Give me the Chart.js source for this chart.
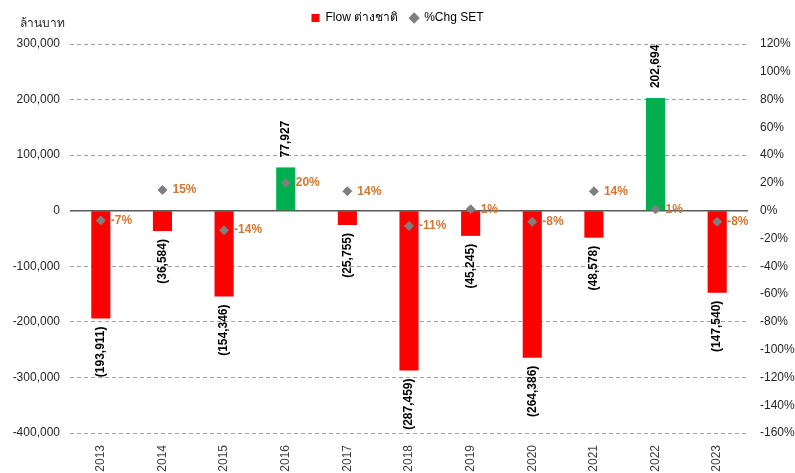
<!DOCTYPE html>
<html>
<head>
<meta charset="utf-8">
<script src="https://cdn.jsdelivr.net/npm/chart.js@4.4.0/dist/chart.umd.min.js"></script>
<style>
  html, body { margin: 0; padding: 0; background: #ffffff; }
  #wrap { width: 795px; height: 473px; position: relative; }
</style>
</head>
<body>
<div id="wrap"><canvas id="flowChart"></canvas></div>
<script>
// Foreign fund flow (million baht) vs SET % change, 2013-2023
const years = ['2013', '2014', '2015', '2016', '2017', '2018', '2019', '2020', '2021', '2022', '2023'];
const flowValues = [-193911, -36584, -154346, 77927, -25755, -287459, -45245, -264386, -48578, 202694, -147540];
const setChange = [-7, 15, -14, 20, 14, -11, 1, -8, 14, 1, -8];

const leftTicks = [-400000, -300000, -200000, -100000, 0, 100000, 200000, 300000];
const rightTicks = [-160, -140, -120, -100, -80, -60, -40, -20, 0, 20, 40, 60, 80, 100, 120];

const FONT = "'Liberation Sans', 'Noto Sans', sans-serif";
const RED = '#FF0000';
const GREEN = '#00B050';
const DIAMOND = '#7F7F7F';
const PCT_COLOR = '#D2772F';

const fmt = n => n.toLocaleString('en-US');

// draws the solid zero line, the unit caption and the value labels
const labelPlugin = {
  id: 'valueLabels',
  beforeDatasetsDraw(chart) {
    const { ctx, chartArea, scales } = chart;
    const y0 = scales.y.getPixelForValue(0);
    ctx.save();
    ctx.strokeStyle = '#595959';
    ctx.lineWidth = 1.5;
    ctx.beginPath();
    ctx.moveTo(chartArea.left, y0);
    ctx.lineTo(chartArea.right, y0);
    ctx.stroke();
    ctx.restore();
  },
  afterDatasetsDraw(chart) {
    const { ctx, chartArea } = chart;
    ctx.save();

    // unit caption
    ctx.font = '12px ' + FONT;
    ctx.fillStyle = '#262626';
    ctx.textAlign = 'left';
    ctx.textBaseline = 'middle';
    ctx.fillText('ล้านบาท', chartArea.left - 50, chartArea.top - 20);

    // bar labels, rotated
    ctx.font = 'bold 12px ' + FONT;
    ctx.fillStyle = '#000000';
    const barMeta = chart.getDatasetMeta(0);
    barMeta.data.forEach((bar, i) => {
      const v = flowValues[i];
      const txt = v < 0 ? '(' + fmt(-v) + ')' : fmt(v);
      ctx.save();
      ctx.translate(bar.x, v < 0 ? bar.y + 8 : bar.y - 10);
      ctx.rotate(-Math.PI / 2);
      ctx.textAlign = v < 0 ? 'right' : 'left';
      ctx.textBaseline = 'middle';
      ctx.fillText(txt, 0, 0);
      ctx.restore();
    });

    // percent labels beside the diamonds
    ctx.fillStyle = PCT_COLOR;
    ctx.textAlign = 'left';
    ctx.textBaseline = 'middle';
    const pctMeta = chart.getDatasetMeta(1);
    pctMeta.data.forEach((pt, i) => {
      ctx.fillText(setChange[i] + '%', pt.x + 10, pt.y);
    });
    ctx.restore();
  }
};

const ctx = document.getElementById('flowChart').getContext('2d');
const chart = new Chart(ctx, {
  type: 'bar',
  data: {
    labels: years,
    datasets: [{
      type: 'bar',
      label: 'Flow ต่างชาติ',
      data: flowValues,
      backgroundColor: flowValues.map(v => v < 0 ? RED : GREEN),
      borderWidth: 0,
      barPercentage: 0.31,
      categoryPercentage: 1,
      yAxisID: 'y',
      order: 2,
      pointStyle: 'rect'
    }, {
      type: 'line',
      label: '%Chg SET',
      data: setChange,
      showLine: false,
      pointStyle: 'rectRot',
      pointRadius: 4.5,
      pointBackgroundColor: DIAMOND,
      pointBorderColor: DIAMOND,
      backgroundColor: DIAMOND,
      borderColor: DIAMOND,
      yAxisID: 'y2',
      order: 1
    }]
  },
  options: {
    responsive: true,
    maintainAspectRatio: false,
    animation: false,
    layout: { padding: { top: 0, left: 0, right: 0, bottom: 0 } },
    plugins: {
      tooltip: { enabled: false },
      // empty title used as a spacer between legend and plot
      title: {
        display: true,
        text: '',
        weight: 500,
        font: { size: 10, lineHeight: 1 },
        padding: 0
      },
      legend: {
        display: true,
        position: 'top',
        weight: 3000,
        labels: {
          usePointStyle: true,
          boxWidth: 8,
          boxHeight: 8,
          padding: 12,
          color: '#404040',
          font: { family: FONT, size: 12 },
          generateLabels: chart => chart.data.datasets.map((ds, i) => ({
            text: ds.label,
            fillStyle: i === 0 ? RED : DIAMOND,
            strokeStyle: i === 0 ? RED : DIAMOND,
            lineWidth: 0,
            pointStyle: ds.pointStyle,
            datasetIndex: i
          }))
        }
      }
    },
    scales: {
      x: {
        grid: { display: false },
        border: { display: false },
        ticks: {
          minRotation: 90,
          maxRotation: 90,
          color: '#404040',
          font: { family: FONT, size: 12 },
          padding: 4
        },
        afterFit: s => { s.height = 40; }
      },
      y: {
        position: 'left',
        min: -400000,
        max: 300000,
        afterBuildTicks: s => { s.ticks = leftTicks.map(v => ({ value: v })); },
        grid: {
          drawTicks: false,
          color: c => c.tick && c.tick.value === 0 ? 'rgba(0,0,0,0)' : '#A0A0A0',
          lineWidth: 1
        },
        border: { display: false, dash: [4, 3] },
        ticks: {
          color: '#262626',
          font: { family: FONT, size: 12 },
          padding: 10,
          callback: v => fmt(v)
        },
        afterFit: s => { s.width = 70; }
      },
      y2: {
        position: 'right',
        min: -160,
        max: 120,
        afterBuildTicks: s => { s.ticks = rightTicks.map(v => ({ value: v })); },
        grid: { display: false, drawTicks: false },
        border: { display: false },
        ticks: {
          color: '#262626',
          font: { family: FONT, size: 12 },
          padding: 12,
          callback: v => v + '%'
        },
        afterFit: s => { s.width = 47; }
      }
    }
  },
  plugins: [labelPlugin]
});
</script>
</body>
</html>
